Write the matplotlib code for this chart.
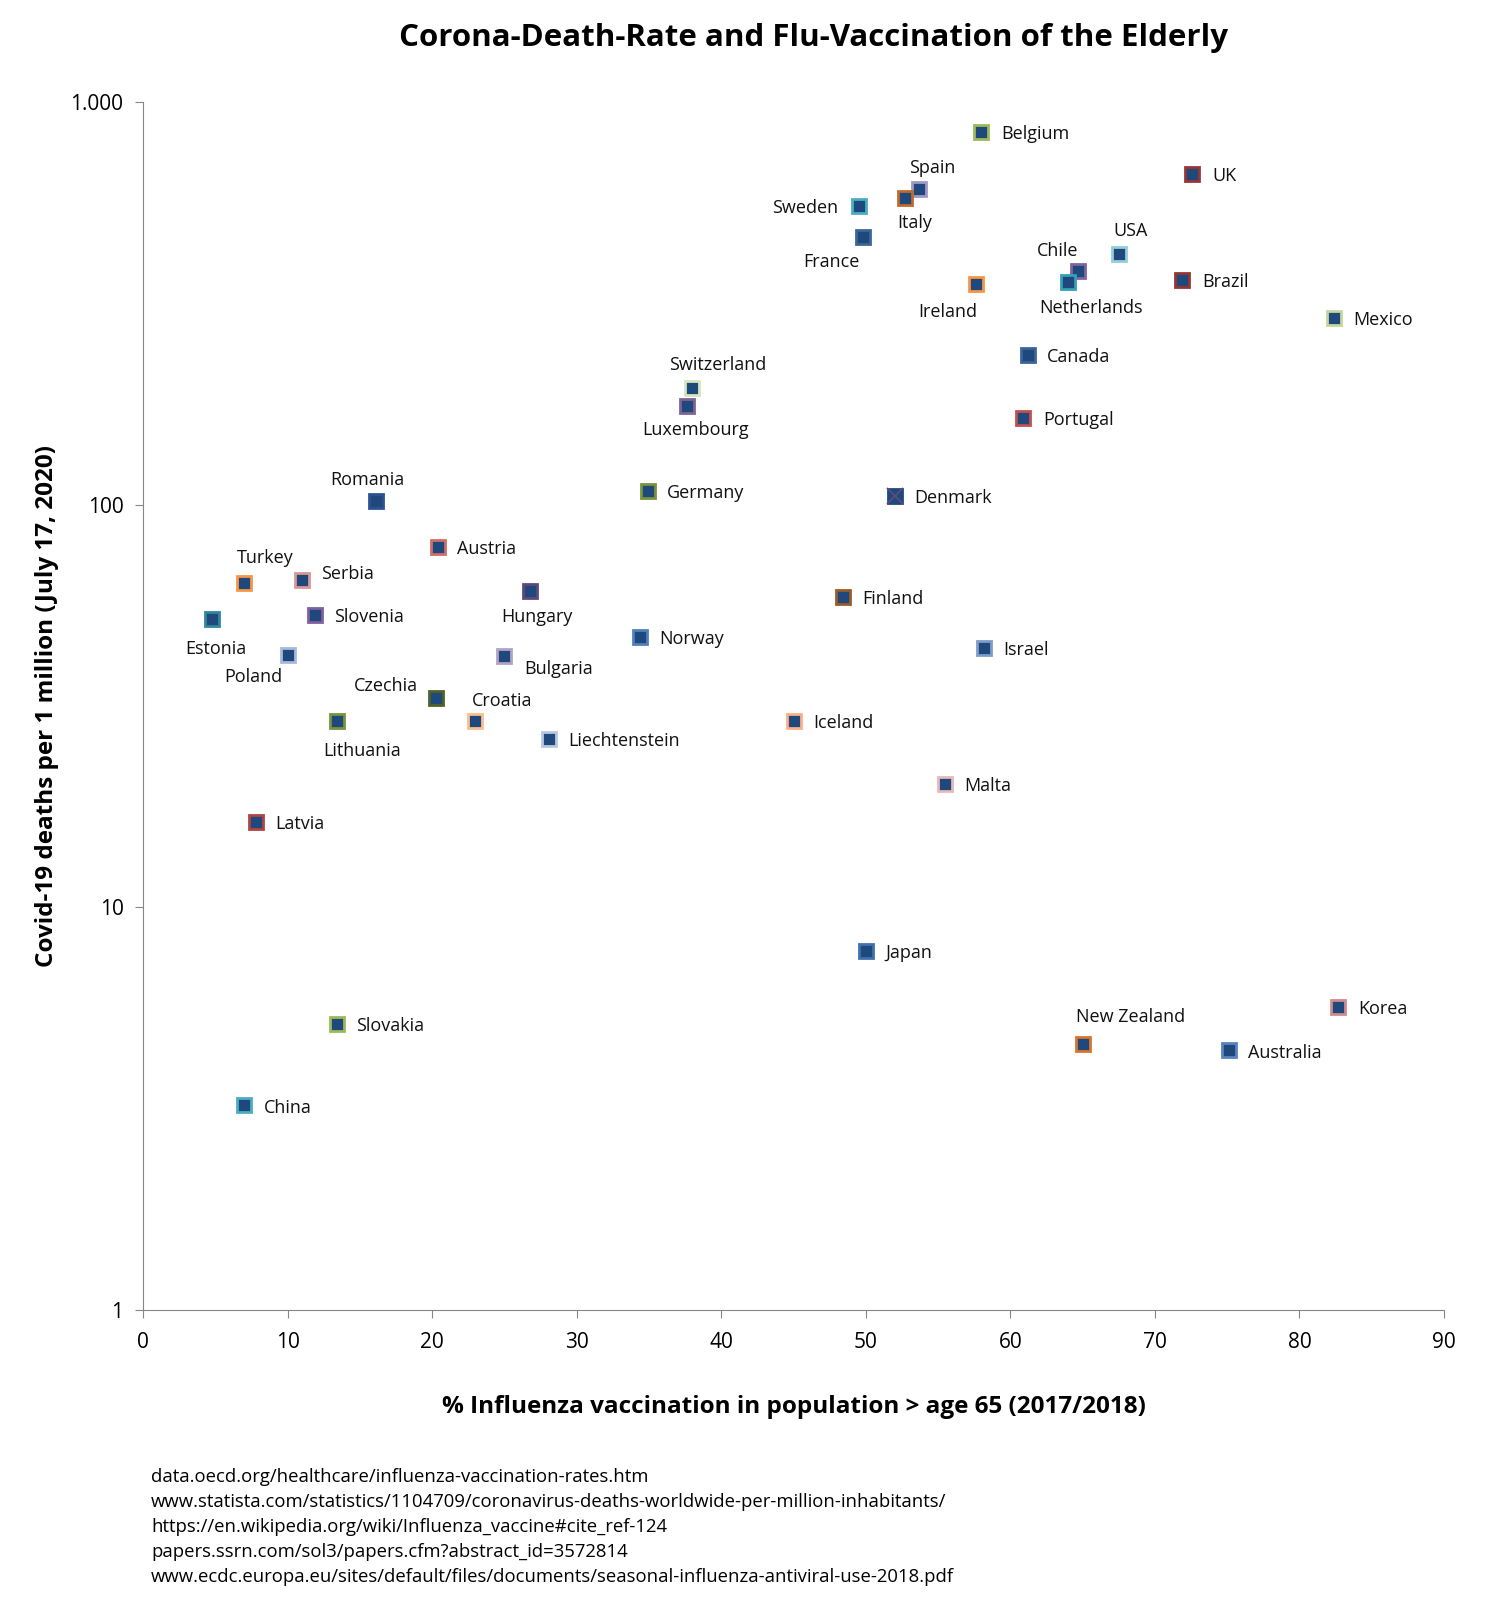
# corona_flu_scatter.py
# Covid-19 deaths per million vs. flu vaccination rate of people over 65

import matplotlib.pyplot as plt
from matplotlib.ticker import FixedLocator, FixedFormatter, NullLocator

plt.rcParams['font.family'] = ['Open Sans', 'DejaVu Sans']

# --- data ---
countries = ['Belgium', 'UK', 'Spain', 'Italy', 'Sweden', 'France', 'USA', 'Chile',
             'Netherlands', 'Ireland', 'Brazil', 'Mexico', 'Canada', 'Portugal',
             'Switzerland', 'Luxembourg', 'Romania', 'Germany', 'Denmark', 'Austria',
             'Turkey', 'Serbia', 'Hungary', 'Finland', 'Estonia', 'Slovenia', 'Norway',
             'Israel', 'Poland', 'Bulgaria', 'Czechia', 'Croatia', 'Lithuania', 'Iceland',
             'Liechtenstein', 'Malta', 'Latvia', 'Japan', 'Korea', 'Slovakia',
             'New Zealand', 'Australia', 'China']
vaccination = [58.0, 72.6, 53.7, 52.7, 49.5, 49.8, 67.5, 64.7,
               64.0, 57.6, 71.9, 82.4, 61.2, 60.9,
               38.0, 37.6, 16.1, 34.9, 52.0, 20.4,
               7.0, 11.0, 26.8, 48.4, 4.8, 11.9, 34.4,
               58.2, 10.0, 25.0, 20.3, 23.0, 13.4, 45.0,
               28.1, 55.5, 7.8, 50.0, 82.7, 13.4,
               65.0, 75.1, 7.0]
deaths = [844, 664, 609, 577, 551, 462, 419, 381,
          358, 353, 362, 291, 235, 164,
          195, 176, 102, 108, 105, 78.7,
          64, 65, 61.2, 59, 52, 53.2, 47,
          44.1, 42.4, 42.1, 33.1, 29.0, 29.0, 29.1,
          26.2, 20.3, 16.3, 7.78, 5.67, 5.14,
          4.57, 4.41, 3.22]

# --- styling: marker edge colour and label offset (px, dx/dy, y down) ---
fill = '#1F497D'
edge = {'Belgium': '#9BBB59', 'UK': '#953735', 'Spain': '#A199C4', 'Italy': '#C0692A',
        'Sweden': '#4BACC6', 'France': '#3C669A', 'USA': '#93CDDD', 'Chile': '#8064A2',
        'Netherlands': '#31A0B8', 'Ireland': '#F79646', 'Brazil': '#943634',
        'Mexico': '#C3D69B', 'Canada': '#3B659A', 'Portugal': '#C0504D',
        'Switzerland': '#D7E4BD', 'Luxembourg': '#7F6396', 'Romania': '#2C5390',
        'Germany': '#77933C', 'Denmark': fill, 'Austria': '#D06B66', 'Turkey': '#F79646',
        'Serbia': '#D99694', 'Hungary': '#5F497A', 'Finland': '#9C5A2A',
        'Estonia': '#31859C', 'Slovenia': '#7E5FA0', 'Norway': '#4F81BD',
        'Israel': '#7F9CC8', 'Poland': '#A8BADA', 'Bulgaria': '#B3A2C7',
        'Czechia': '#4F6228', 'Croatia': '#FABF8F', 'Lithuania': '#77933C',
        'Iceland': '#FAB088', 'Liechtenstein': '#B9C8E2', 'Malta': '#E6B9B8',
        'Latvia': '#B04440', 'Japan': '#4170AE', 'Korea': '#D08C8C',
        'Slovakia': '#9BBB59', 'New Zealand': '#D9742E', 'Australia': '#5A84C0',
        'China': '#4BACC6'}

R = 19  # gap for labels on the right
place = {'Spain': (13, -22, 'center'), 'Italy': (10, 22, 'center'),
         'Sweden': (-20, 0, 'right'), 'France': (-31, 22, 'center'),
         'USA': (12, -25, 'center'), 'Chile': (-20, -21, 'center'),
         'Netherlands': (22, 24, 'center'), 'Ireland': (-27, 25, 'center'),
         'Switzerland': (25, -24, 'center'), 'Luxembourg': (9, 22, 'center'),
         'Romania': (-8, -23, 'center'), 'Turkey': (21, -26, 'center'),
         'Serbia': (R, -8, 'left'), 'Hungary': (6, 24, 'center'),
         'Estonia': (3, 27, 'center'), 'Poland': (-34, 20, 'center'),
         'Bulgaria': (R, 11, 'left'), 'Czechia': (-49, -14, 'center'),
         'Croatia': (26, -22, 'center'), 'Lithuania': (25, 27, 'center'),
         'New Zealand': (47, -29, 'center')}

fig = plt.figure(figsize=(14.85, 16.02), dpi=100)
ax = fig.add_axes([0.0963, 0.1823, 0.8761, 0.754])

for name, x, y in zip(countries, vaccination, deaths):
    ax.plot(x, y, marker='s', markersize=10, markerfacecolor=fill,
            markeredgecolor=edge[name], markeredgewidth=2, linestyle='none', zorder=3)
    if name == 'Denmark':
        ax.plot(x, y, marker='x', markersize=11, markeredgecolor='#5F497A',
                markeredgewidth=1.3, linestyle='none', zorder=4)
    dx, dy, ha = place.get(name, (R, 0, 'left'))
    ax.annotate(name, (x, y), xytext=(dx * 1.022, -(dy + 2) * 1.022),
                textcoords='offset pixels', ha=ha, va='center', fontsize=13,
                color='#111111')

ax.set_xlim(0, 90)
ax.set_yscale('log')
ax.set_ylim(1, 1000)
ax.set_xticks(range(0, 91, 10))
ax.yaxis.set_major_locator(FixedLocator([1, 10, 100, 1000]))
ax.yaxis.set_major_formatter(FixedFormatter(['1', '10', '100', '1.000']))
ax.yaxis.set_minor_locator(NullLocator())

for s in ['top', 'right']:
    ax.spines[s].set_visible(False)
for s in ['left', 'bottom']:
    ax.spines[s].set_color('#868686')
ax.tick_params(axis='both', colors='#868686', direction='out', length=6,
               labelsize=15, labelcolor='black')
ax.tick_params(axis='x', pad=10)
ax.tick_params(axis='y', pad=8)

ax.set_xlabel('% Influenza vaccination in population > age 65 (2017/2018)',
              fontsize=17.5, fontweight='bold', labelpad=30)
ax.set_ylabel('Covid-19 deaths per 1 million (July 17, 2020)',
              fontsize=17.5, fontweight='bold', labelpad=8)
fig.text(0.548, 0.976, 'Corona-Death-Rate and Flu-Vaccination of the Elderly',
         ha='center', va='center', fontsize=22.5, fontweight='bold')

sources = ['data.oecd.org/healthcare/influenza-vaccination-rates.htm',
           'www.statista.com/statistics/1104709/coronavirus-deaths-worldwide-per-million-inhabitants/',
           'https://en.wikipedia.org/wiki/Influenza_vaccine#cite_ref-124',
           'papers.ssrn.com/sol3/papers.cfm?abstract_id=3572814',
           'www.ecdc.europa.eu/sites/default/files/documents/seasonal-influenza-antiviral-use-2018.pdf']
for i, line in enumerate(sources):
    fig.text(151 / 1485, 1 - (1477 + i * 25) / 1602, line, ha='left', va='center',
             fontsize=13.3)

fig.savefig('out.png', dpi=100)
